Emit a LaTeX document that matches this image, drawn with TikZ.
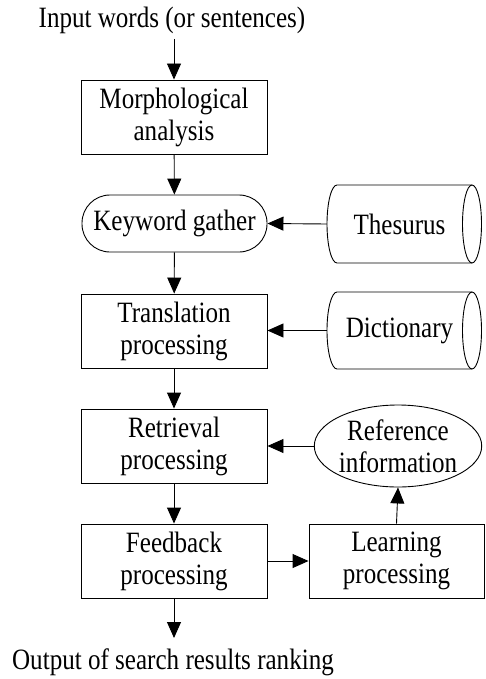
\documentclass[tikz,border=0pt]{standalone}
\usepackage{fontspec}
\setmainfont[FakeStretch=0.85]{Liberation Serif}
\usetikzlibrary{arrows.meta,shapes.geometric}
\begin{document}
\begin{tikzpicture}[x=1pt,y=-1pt,
  every node/.style={font=\fontsize{29.5}{32}\selectfont, align=center, inner sep=0pt},
  box/.style={draw, line width=0.9pt, minimum width=186pt, minimum height=74pt},
  stadium/.style={draw, line width=0.9pt, rounded corners=28pt, minimum width=185pt, minimum height=57pt},
  txt/.style={draw=none},
  line/.style={line width=0.9pt},
  arr/.style={line width=0.9pt, -{Triangle[length=16pt,width=14pt]}}
]
\useasboundingbox (0,0) rectangle (486,679);

\node[txt] (in) at (172,20) {Input words (or sentences)};
\node[box] (morph) at (174,117) {Morphological\\analysis};
\node[stadium] (kw) at (174.5,223.5) {Keyword gather};
\node[box] (trans) at (174,331) {Translation\\processing};
\node[box] (retr) at (174,446) {Retrieval\\processing};
\node[box] (feed) at (174,561) {Feedback\\processing};
\node[box, minimum width=175pt] (learn) at (396.5,561) {Learning\\processing};
\node[draw, line width=0.9pt, ellipse, minimum width=166pt, minimum height=82pt] (ref) at (398,446) {Reference\\information};
\node[txt] (out) at (173,662) {Output of search results ranking};

% cylinders
\node[txt, minimum width=145pt, minimum height=78pt] (thes) at (399.5,224) {Thesurus};
\draw[line] (472,185) -- (337,185) arc[start angle=270, end angle=90, x radius=10, y radius=39] -- (472,263);
\draw[line] (472,224) ellipse[x radius=9.5, y radius=39];

\node[txt, minimum width=145pt, minimum height=77pt] (dict) at (399.5,330.5) {Dictionary};
\draw[line] (472,292) -- (337,292) arc[start angle=270, end angle=90, x radius=10, y radius=38.5] -- (472,369);
\draw[line] (472,330.5) ellipse[x radius=9.5, y radius=38.5];

% connectors
\draw[arr] (morph.north |- 0,39) coordinate (s0) -- (morph.north);
\draw[arr] (morph) -- (kw);
\draw[arr] (kw) -- (trans);
\draw[arr] (trans) -- (retr);
\draw[arr] (retr) -- (feed);
\draw[arr] (feed.south) -- (feed.south |- 0,638) coordinate (e0);
\draw[arr] (thes.west) -- (kw.east);
\draw[arr] (dict.west) -- (trans.east |- dict.west);
\draw[arr] (ref.west) -- (retr.east |- ref.west);
\draw[arr] (feed.east) -- (learn.west);
\draw[arr] (learn.north) -- (ref.south);
\end{tikzpicture}
\end{document}
